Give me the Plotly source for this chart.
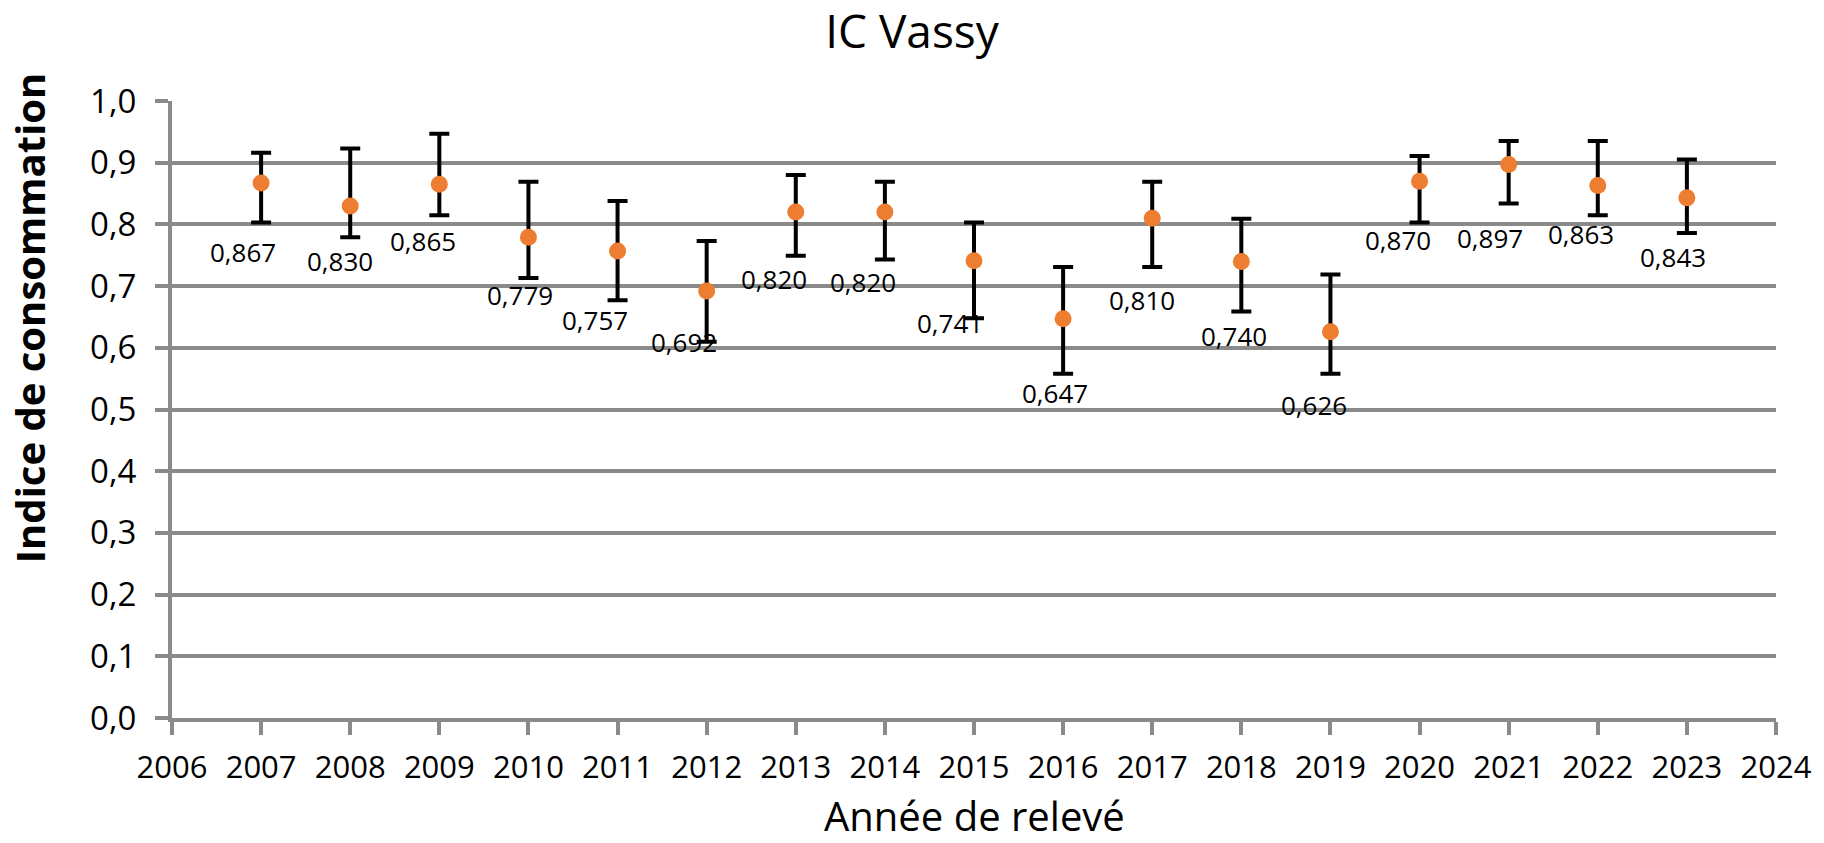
import plotly.graph_objects as go

# ---- data ----
years = [2007, 2008, 2009, 2010, 2011, 2012, 2013, 2014, 2015, 2016, 2017, 2018, 2019, 2020, 2021, 2022, 2023]
ic_values = [0.867, 0.830, 0.865, 0.779, 0.757, 0.692, 0.820, 0.820, 0.741, 0.647, 0.810, 0.740, 0.626, 0.870, 0.897, 0.863, 0.843]
upper_bound = [0.916, 0.923, 0.947, 0.869, 0.838, 0.773, 0.880, 0.869, 0.803, 0.731, 0.869, 0.809, 0.719, 0.911, 0.935, 0.935, 0.905]
lower_bound = [0.803, 0.779, 0.815, 0.713, 0.677, 0.610, 0.749, 0.743, 0.648, 0.558, 0.731, 0.659, 0.558, 0.803, 0.834, 0.815, 0.786]
x_ticks = list(range(2006, 2025))
y_ticks = [0.0, 0.1, 0.2, 0.3, 0.4, 0.5, 0.6, 0.7, 0.8, 0.9, 1.0]

# label placement (pixel offsets, style only)
label_dx = [-18, -10, -16, -8, -23, -23, -22, -22, -24, -8, -10, -7, -16, -22, -19, -17, -14]
label_dy = [69, 55, 57, 58, 69, 51, 67, 70, 62, 74, 82, 75, 73, 59, 73, 48, 59]

err_plus = [u - v for u, v in zip(upper_bound, ic_values)]
err_minus = [v - l for v, l in zip(ic_values, lower_bound)]

GRID = "#8a8a8a"
FONT = "Open Sans"

fig = go.Figure()
fig.add_trace(go.Scatter(
    x=years, y=ic_values, mode="markers",
    marker=dict(color="#ED7D31", size=17, symbol="circle", line=dict(width=0)),
    error_y=dict(type="data", symmetric=False, array=err_plus, arrayminus=err_minus,
                 color="black", thickness=4, width=10),
    showlegend=False, hoverinfo="skip",
))

annotations = []
for x, v, dx, dy in zip(years, ic_values, label_dx, label_dy):
    annotations.append(dict(
        x=x, y=v, xref="x", yref="y", showarrow=False,
        text=f"{v:.3f}".replace(".", ","),
        xshift=dx, yshift=-dy, xanchor="center", yanchor="middle",
        font=dict(family=FONT, size=26, color="black"),
    ))

# axis titles
annotations.append(dict(
    x=0, y=0.648, xref="paper", yref="paper", showarrow=False,
    text="<b>Indice de consommation</b>", textangle=-90,
    xshift=-143, xanchor="center", yanchor="middle",
    font=dict(family=FONT, size=40, color="black"),
))
annotations.append(dict(
    x=0.5, y=0, xref="paper", yref="paper", showarrow=False,
    text="Année de relevé", yshift=-97, xanchor="center", yanchor="middle",
    font=dict(family=FONT, size=40, color="black"),
))

fig.update_layout(
    width=1824, height=843,
    margin=dict(l=172, r=44, t=101, b=125),
    paper_bgcolor="white", plot_bgcolor="white",
    separators=", ",
    title=dict(text="IC Vassy", x=0.5, xref="container", xanchor="center",
               y=0.962, yref="container", yanchor="middle",
               font=dict(family=FONT, size=46, color="black")),
    annotations=annotations,
    xaxis=dict(
        range=[2006, 2024], tickmode="array", tickvals=x_ticks,
        ticktext=[str(t) for t in x_ticks],
        showgrid=False, zeroline=False,
        showline=True, linecolor=GRID, linewidth=4,
        ticks="outside", ticklen=13, tickwidth=4, tickcolor=GRID,
        tickfont=dict(family=FONT, size=31, color="black"),
        ticklabelstandoff=6,
    ),
    yaxis=dict(
        range=[0, 1.0], tickmode="array", tickvals=y_ticks,
        tickformat=".1f",
        showgrid=True, gridcolor=GRID, gridwidth=4,
        zeroline=False,
        showline=True, linecolor=GRID, linewidth=4,
        ticks="outside", ticklen=13, tickwidth=4, tickcolor=GRID,
        tickfont=dict(family=FONT, size=33, color="black"),
        ticklabelstandoff=12,
    ),
)

fig.write_html(
    "out.html",
    config={"displayModeBar": False},
    post_script="document.body.style.margin='0px';document.body.style.overflow='hidden';",
)
